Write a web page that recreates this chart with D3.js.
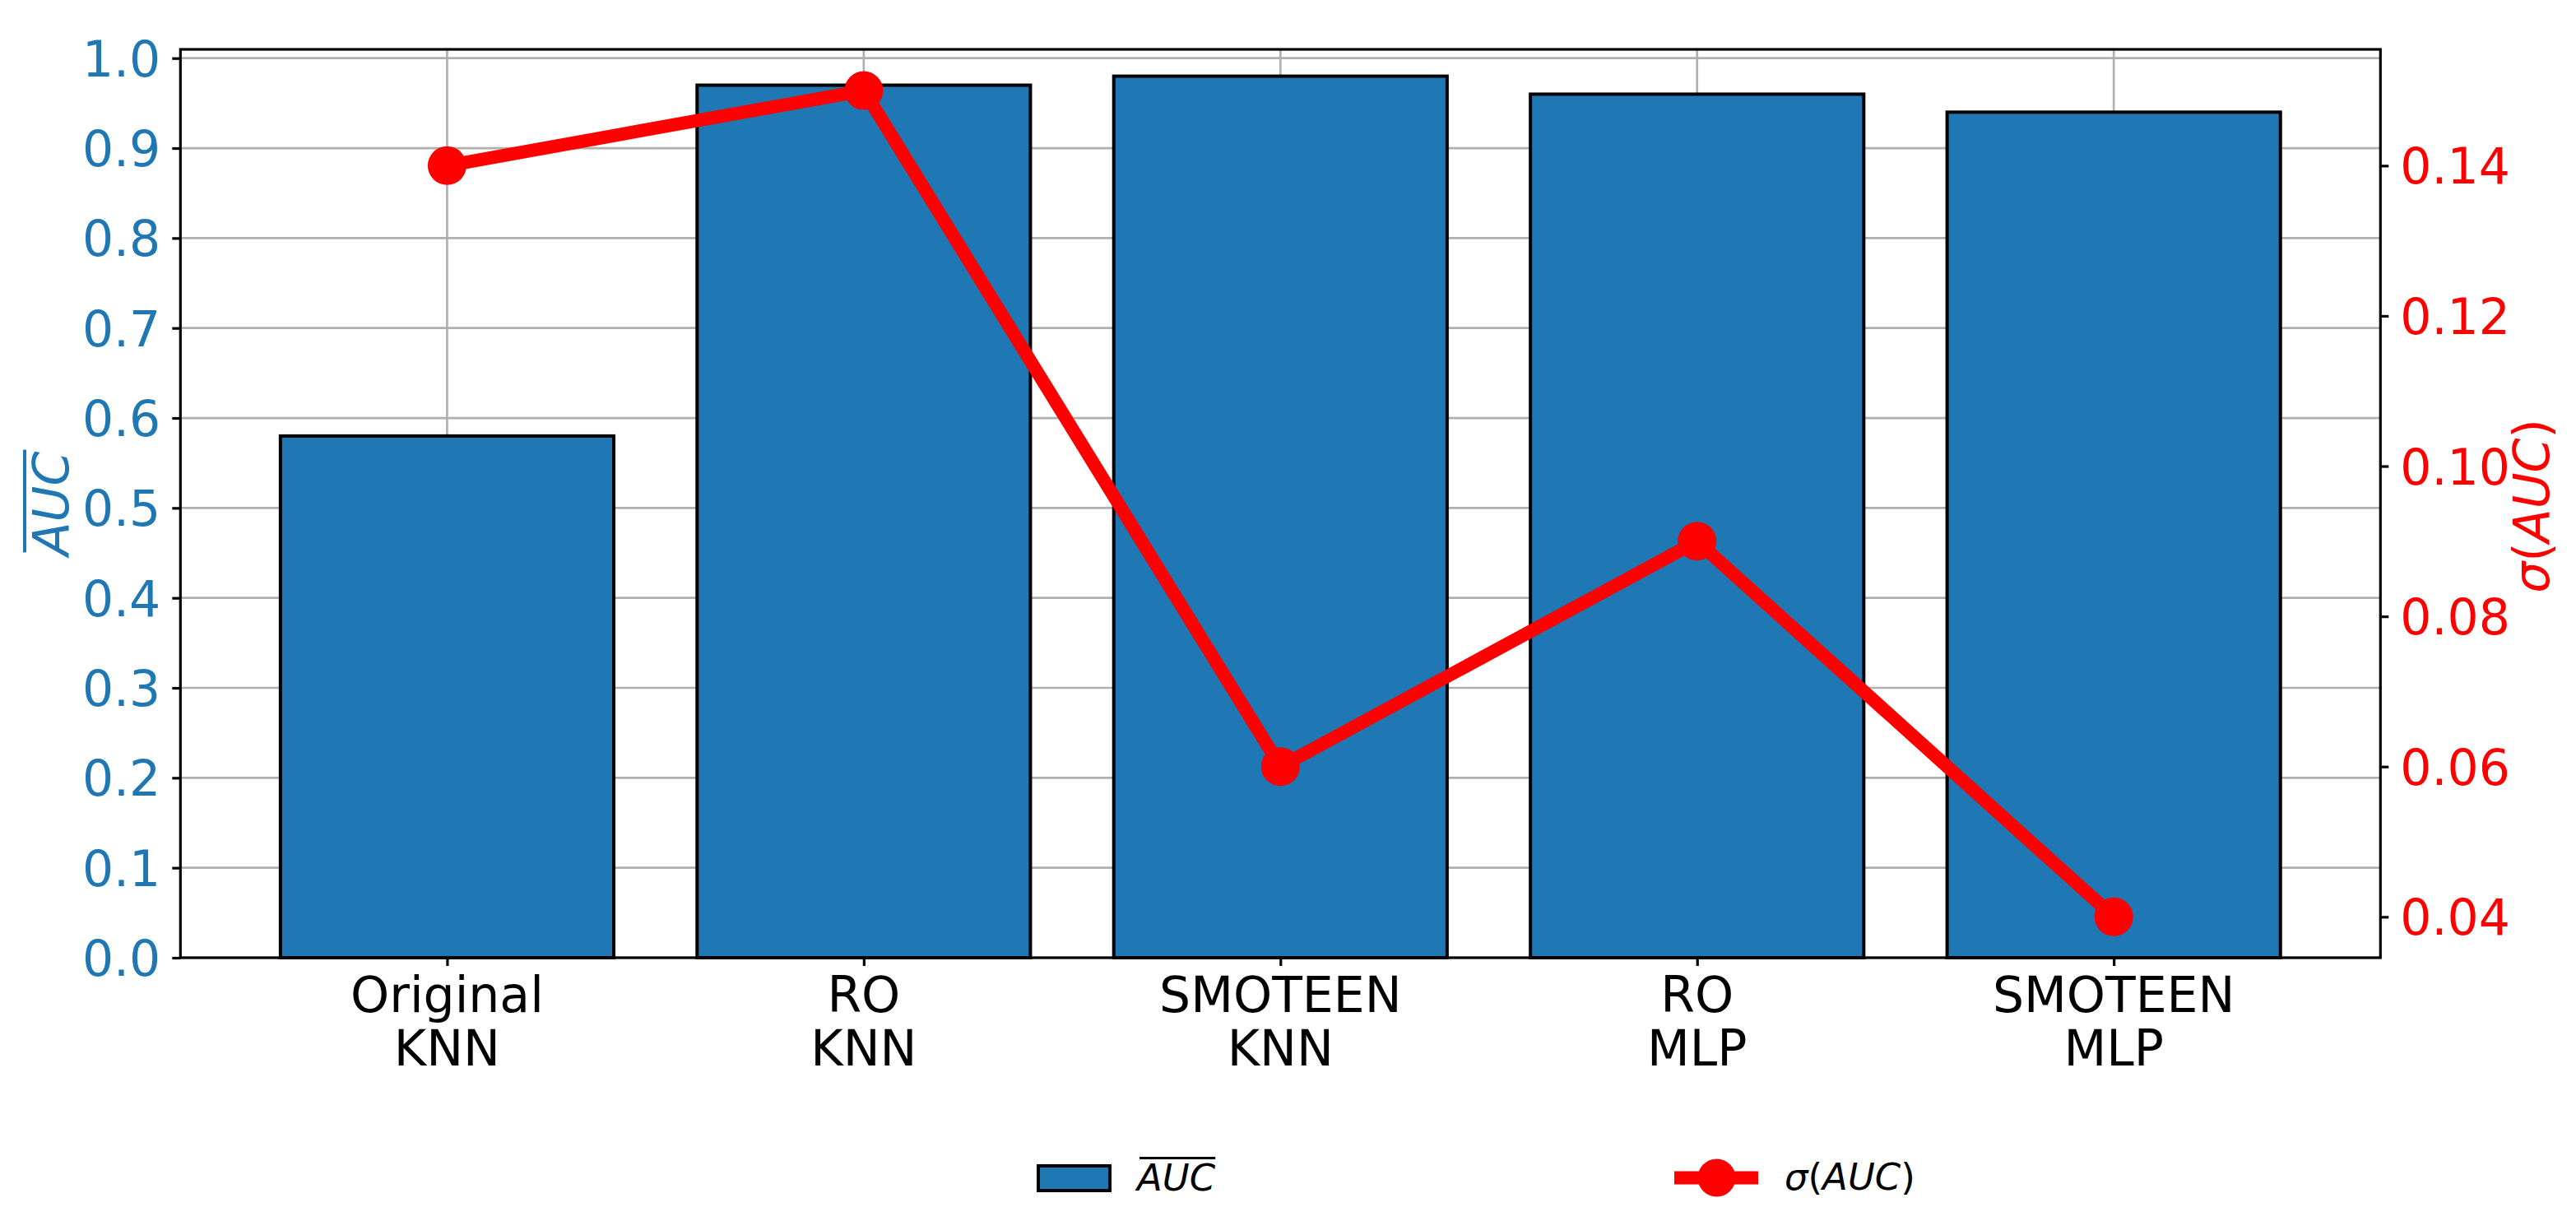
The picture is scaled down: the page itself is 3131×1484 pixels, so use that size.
<!DOCTYPE html>
<html>
<head>
<meta charset="utf-8">
<script src="https://cdn.jsdelivr.net/npm/d3@7"></script>
<style>
  body { margin: 0; background: white; }
  text { font-family: "DejaVu Sans", sans-serif; }
</style>
</head>
<body>
<script>
var width = 3131,
    height = 1484;

// data
var methods = ["Original", "RO", "SMOTEEN", "RO", "SMOTEEN"];
var models = ["KNN", "KNN", "KNN", "MLP", "MLP"];
var aucMean = [0.58, 0.97, 0.98, 0.96, 0.94];
var aucStd = [0.14, 0.15, 0.06, 0.09, 0.04];
var leftTicks = [0, 0.1, 0.2, 0.3, 0.4, 0.5, 0.6, 0.7, 0.8, 0.9, 1.0];
var rightTicks = [0.04, 0.06, 0.08, 0.10, 0.12, 0.14];

var blue = "#1f77b4",
    red = "#ff0000",
    gridColor = "#b0b0b0";

// plot box (window.top is taken, so prefixed names)
var pLeft = 219.3, pRight = 2893.3, pTop = 60, pBottom = 1164;

var svg = d3.select("body").append("svg")
    .attr("width", width)
    .attr("height", height);

var x = d3.scaleLinear().domain([-0.64, 4.64]).range([pLeft, pRight]);
var y = d3.scaleLinear().domain([0, 1.0098]).range([pBottom, pTop]);
var y2 = d3.scaleLinear().domain([0.03456, 0.15548]).range([pBottom, pTop]);

var idx = d3.range(aucMean.length);

// grid
svg.append("g").selectAll("line")
  .data(leftTicks)
  .enter().append("line")
    .attr("x1", pLeft).attr("x2", pRight)
    .attr("y1", function (d) { return y(d); })
    .attr("y2", function (d) { return y(d); })
    .attr("stroke", gridColor)
    .attr("stroke-width", 2.7);

svg.append("g").selectAll("line")
  .data(idx)
  .enter().append("line")
    .attr("x1", function (d) { return x(d); })
    .attr("x2", function (d) { return x(d); })
    .attr("y1", pTop).attr("y2", pBottom)
    .attr("stroke", gridColor)
    .attr("stroke-width", 2.7);

// bars
var barW = x(0.4) - x(-0.4);
svg.append("g").selectAll("rect")
  .data(idx)
  .enter().append("rect")
    .attr("x", function (i) { return x(i) - barW / 2; })
    .attr("y", function (i) { return y(aucMean[i]); })
    .attr("width", barW)
    .attr("height", function (i) { return y(0) - y(aucMean[i]); })
    .attr("fill", blue)
    .attr("stroke", "black")
    .attr("stroke-width", 4);

// left axis
var yAxis = d3.axisLeft(y)
    .tickValues(leftTicks)
    .tickFormat(d3.format(".1f"))
    .tickSize(10)
    .tickPadding(14);

var gl = svg.append("g")
    .attr("transform", "translate(" + pLeft + ",0)")
    .call(yAxis);
gl.select(".domain").remove();
gl.selectAll(".tick line").attr("stroke", "black").attr("stroke-width", 3.2);
gl.selectAll(".tick text")
    .attr("fill", blue)
    .attr("font-size", 60)
    .attr("dy", "0.36em")
    .style("font-family", "DejaVu Sans");

// bottom axis
var xAxis = d3.axisBottom(x)
    .tickValues(idx)
    .tickFormat("")
    .tickSize(10);

var gb = svg.append("g")
    .attr("transform", "translate(0," + pBottom + ")")
    .call(xAxis);
gb.select(".domain").remove();
gb.selectAll(".tick line").attr("stroke", "black").attr("stroke-width", 3.2);

var xl = svg.append("g").selectAll("text")
  .data(idx)
  .enter().append("text")
    .attr("text-anchor", "middle")
    .attr("font-size", 60)
    .attr("fill", "black");
xl.append("tspan")
    .attr("x", function (i) { return x(i); })
    .attr("y", 1230)
    .text(function (i) { return methods[i]; });
xl.append("tspan")
    .attr("x", function (i) { return x(i); })
    .attr("y", 1295)
    .text(function (i) { return models[i]; });

// frame
svg.append("rect")
    .attr("x", pLeft).attr("y", pTop)
    .attr("width", pRight - pLeft).attr("height", pBottom - pTop)
    .attr("fill", "none")
    .attr("stroke", "black")
    .attr("stroke-width", 3.2);

// std line on twin axis
var line = d3.line()
    .x(function (i) { return x(i); })
    .y(function (i) { return y2(aucStd[i]); });

svg.append("path")
    .datum(idx)
    .attr("d", line)
    .attr("fill", "none")
    .attr("stroke", red)
    .attr("stroke-width", 16)
    .attr("stroke-linejoin", "round");

svg.append("g").selectAll("circle")
  .data(idx)
  .enter().append("circle")
    .attr("cx", function (i) { return x(i); })
    .attr("cy", function (i) { return y2(aucStd[i]); })
    .attr("r", 23.5)
    .attr("fill", red);

// right axis
var y2Axis = d3.axisRight(y2)
    .tickValues(rightTicks)
    .tickFormat(d3.format(".2f"))
    .tickSize(10)
    .tickPadding(14);

var gr = svg.append("g")
    .attr("transform", "translate(" + pRight + ",0)")
    .call(y2Axis);
gr.select(".domain").remove();
gr.selectAll(".tick line").attr("stroke", "black").attr("stroke-width", 3.2);
gr.selectAll(".tick text")
    .attr("fill", red)
    .attr("font-size", 60)
    .attr("dy", "0.36em")
    .style("font-family", "DejaVu Sans");

// left y label: AUC with overline
var ylab = svg.append("g")
    .attr("transform", "translate(83,612) rotate(-90)");
var yt = ylab.append("text")
    .attr("text-anchor", "middle")
    .attr("font-size", 60)
    .attr("font-style", "italic")
    .attr("fill", blue)
    .text("AUC");
var yLen = yt.node().getComputedTextLength();
ylab.append("line")
    .attr("x1", -yLen / 2 + 4).attr("x2", yLen / 2 + 2)
    .attr("y1", -53).attr("y2", -53)
    .attr("stroke", blue)
    .attr("stroke-width", 4);

// right y label: sigma(AUC)
var rt = svg.append("text")
    .attr("transform", "translate(3098,615) rotate(-90)")
    .attr("text-anchor", "middle")
    .attr("font-size", 60)
    .attr("fill", red);
rt.append("tspan").attr("font-style", "italic").text("σ");
rt.append("tspan").text("(");
rt.append("tspan").attr("font-style", "italic").text("AUC");
rt.append("tspan").text(")");

// legend
var leg = svg.append("g");
leg.append("rect")
    .attr("x", 1262).attr("y", 1417)
    .attr("width", 87).attr("height", 30)
    .attr("fill", blue)
    .attr("stroke", "black")
    .attr("stroke-width", 4);
var lt = leg.append("text")
    .attr("x", 1382).attr("y", 1447)
    .attr("font-size", 45)
    .attr("font-style", "italic")
    .attr("fill", "black")
    .text("AUC");
var lLen = lt.node().getComputedTextLength();
leg.append("line")
    .attr("x1", 1385).attr("x2", 1382 + lLen)
    .attr("y1", 1407.5).attr("y2", 1407.5)
    .attr("stroke", "black")
    .attr("stroke-width", 3);

leg.append("line")
    .attr("x1", 2035).attr("x2", 2137)
    .attr("y1", 1431.5).attr("y2", 1431.5)
    .attr("stroke", red)
    .attr("stroke-width", 16);
leg.append("circle")
    .attr("cx", 2086.5).attr("cy", 1431.5)
    .attr("r", 23)
    .attr("fill", red);
var st = leg.append("text")
    .attr("x", 2169).attr("y", 1446)
    .attr("font-size", 45)
    .attr("fill", "black");
st.append("tspan").attr("font-style", "italic").text("σ");
st.append("tspan").text("(");
st.append("tspan").attr("font-style", "italic").text("AUC");
st.append("tspan").text(")");
</script>
</body>
</html>
